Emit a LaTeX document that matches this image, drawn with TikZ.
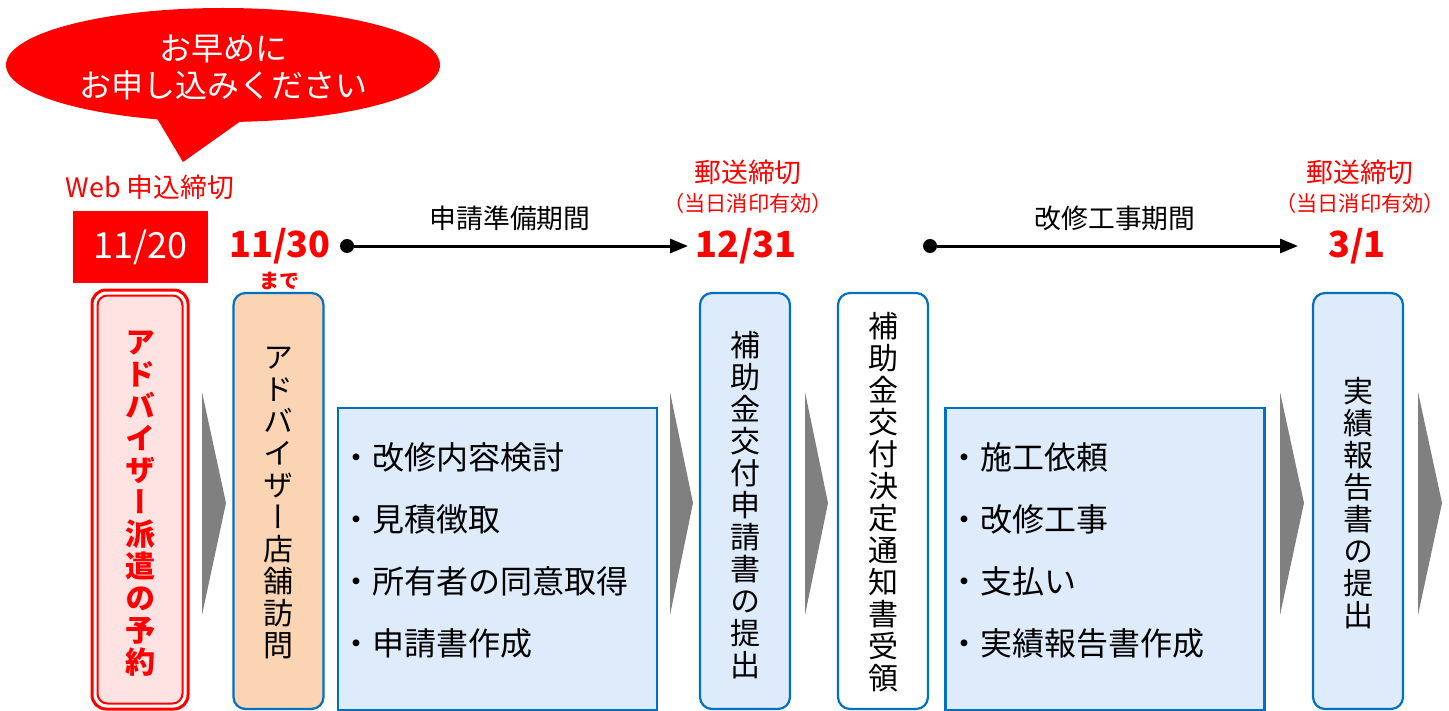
\documentclass[tikz,border=0pt]{standalone}
\usepackage{fontspec}
\setmainfont{Noto Sans CJK JP}
\newfontfamily\jpv{Noto Sans CJK JP}[RawFeature=+vert]
\usetikzlibrary{arrows.meta,shapes.geometric}
\definecolor{myred}{HTML}{FF0000}
\definecolor{myblue}{HTML}{0070C0}
\definecolor{lblue}{HTML}{DDEBFB}
\definecolor{peach}{HTML}{FBD4B4}
\definecolor{lpink}{HTML}{FFE2E2}
\definecolor{chev}{HTML}{808080}
\tikzset{
  vbox/.style={rectangle, rounded corners=6pt, draw=myblue, line width=1.1pt, minimum width=45pt, minimum height=208pt, inner sep=0pt},
  lbox/.style={rectangle, draw=myblue, line width=1.1pt, fill=lblue, minimum width=159.5pt, minimum height=151pt, inner sep=0pt},
  vtxt/.style={align=center, inner sep=0pt, font=\jpv\fontsize{15}{16}\selectfont},
  item/.style={anchor=west, inner sep=0pt, font=\fontsize{16}{18}\selectfont},
  chevron/.style={fill=chev},
  redlbl/.style={text=myred, inner sep=0pt, font=\fontsize{13.4}{15}\selectfont},
  redsmall/.style={text=myred, inner sep=0pt, font=\fontsize{10.6}{12}\selectfont},
  datelbl/.style={text=myred, inner sep=0pt, font=\bfseries\fontsize{18}{20}\selectfont},
  periodlbl/.style={inner sep=0pt, font=\fontsize{13.4}{15}\selectfont},
  dotnode/.style={circle, fill=black, minimum size=7pt, inner sep=0pt},
  tl/.style={line width=1.5pt, -{Triangle[length=9pt,width=7pt]}}
}
\begin{document}
\begin{tikzpicture}[x=0.5pt,y=-0.5pt]
\fill[white] (0,0) rectangle (1449,711);
\useasboundingbox (0,0) rectangle (1449,711);

% speech bubble
\node[ellipse, fill=myred, minimum width=217pt, minimum height=57pt, inner sep=0pt] (bubble) at (223,65) {};
\fill[myred] (155,115) -- (183,162) -- (245,118) -- cycle;
\node[text=white, align=center, inner sep=0pt, font=\fontsize{16}{18.5}\selectfont] (bubbletxt) at (223,67) {お早めに\\お申し込みください};

% Web deadline
\node[redlbl] (webdl) at (150,187) {Web 申込締切};
\node[rectangle, fill=myred, minimum width=67.5pt, minimum height=36pt, inner sep=0pt, text=white, font=\fontsize{18}{20}\selectfont] (d1120) at (140.5,247) {11/20};

% dates and timeline
\node[datelbl] (d1130) at (280,246) {11/30};
\node[text=myred, inner sep=0pt, font=\bfseries\fontsize{10}{11}\selectfont] (made) at (279,281) {まで};

\node[dotnode] (p1) at (347,246) {};
\coordinate (e1) at (688,246);
\draw[tl] (p1) -- (e1);
\node[periodlbl] (per1) at (510,218) {申請準備期間};

\node[redlbl] (post1) at (748,172) {郵送締切};
\node[redsmall] (stamp1) at (748,203) {（当日消印有効）};
\node[datelbl] (d1231) at (746,246) {12/31};

\node[dotnode] (p2) at (930,246) {};
\coordinate (e2) at (1298,246);
\draw[tl] (p2) -- (e2);
\node[periodlbl] (per2) at (1115,218) {改修工事期間};

\node[redlbl] (post2) at (1360,172) {郵送締切};
\node[redsmall] (stamp2) at (1360,203) {（当日消印有効）};
\node[datelbl] (d31) at (1357,246) {3/1};

% box 1 (double red border)
\node[rectangle, rounded corners=7pt, draw=myred, line width=1.5pt, fill=white, minimum width=48pt, minimum height=209.5pt, inner sep=0pt] (b1out) at (140,499.5) {};
\node[rectangle, rounded corners=5pt, draw=myred, line width=1pt, fill=lpink, minimum width=42.5pt, minimum height=204pt, inner sep=0pt] (b1in) at (140,499.5) {};
\node[vtxt, text=myred, font=\jpv\bfseries\fontsize{15}{16}\selectfont] (t1) at (140,504) {ア\\ド\\バ\\イ\\ザ\\ー\\派\\遣\\の\\予\\約};

% box 2
\node[vbox, fill=peach] (b2) at (278.5,501) {};
\node[vtxt] (t2) at (278.5,503) {ア\\ド\\バ\\イ\\ザ\\ー\\店\\舗\\訪\\問};

% box 3
\node[lbox] (b3) at (497.5,559) {};
\node[item] (a1) at (340,457) {・改修内容検討};
\node[item] (a2) at (340,519) {・見積徴取};
\node[item] (a3) at (340,581) {・所有者の同意取得};
\node[item] (a4) at (340,643) {・申請書作成};

% box 4
\node[vbox, fill=lblue] (b4) at (745,501) {};
\node[vtxt] (t4) at (745,505) {補\\助\\金\\交\\付\\申\\請\\書\\の\\提\\出};

% box 5
\node[vbox, fill=white] (b5) at (883,501) {};
\node[vtxt] (t5) at (883,502) {補\\助\\金\\交\\付\\決\\定\\通\\知\\書\\受\\領};

% box 6
\node[lbox] (b6) at (1105,559) {};
\node[item] (c1) at (948,457) {・施工依頼};
\node[item] (c2) at (948,519) {・改修工事};
\node[item] (c3) at (948,581) {・支払い};
\node[item] (c4) at (948,643) {・実績報告書作成};

% box 7
\node[vbox, fill=lblue] (b7) at (1358,501) {};
\node[vtxt] (t7) at (1358,503) {実\\績\\報\\告\\書\\の\\提\\出};

% chevrons
\fill[chevron] (202,392) -- (226,503) -- (202,615) -- cycle;
\fill[chevron] (670,392) -- (693,503) -- (670,615) -- cycle;
\fill[chevron] (805,392) -- (828,503) -- (805,615) -- cycle;
\fill[chevron] (1280,392) -- (1304,503) -- (1280,615) -- cycle;
\fill[chevron] (1418,392) -- (1442,503) -- (1418,615) -- cycle;
\end{tikzpicture}
\end{document}
